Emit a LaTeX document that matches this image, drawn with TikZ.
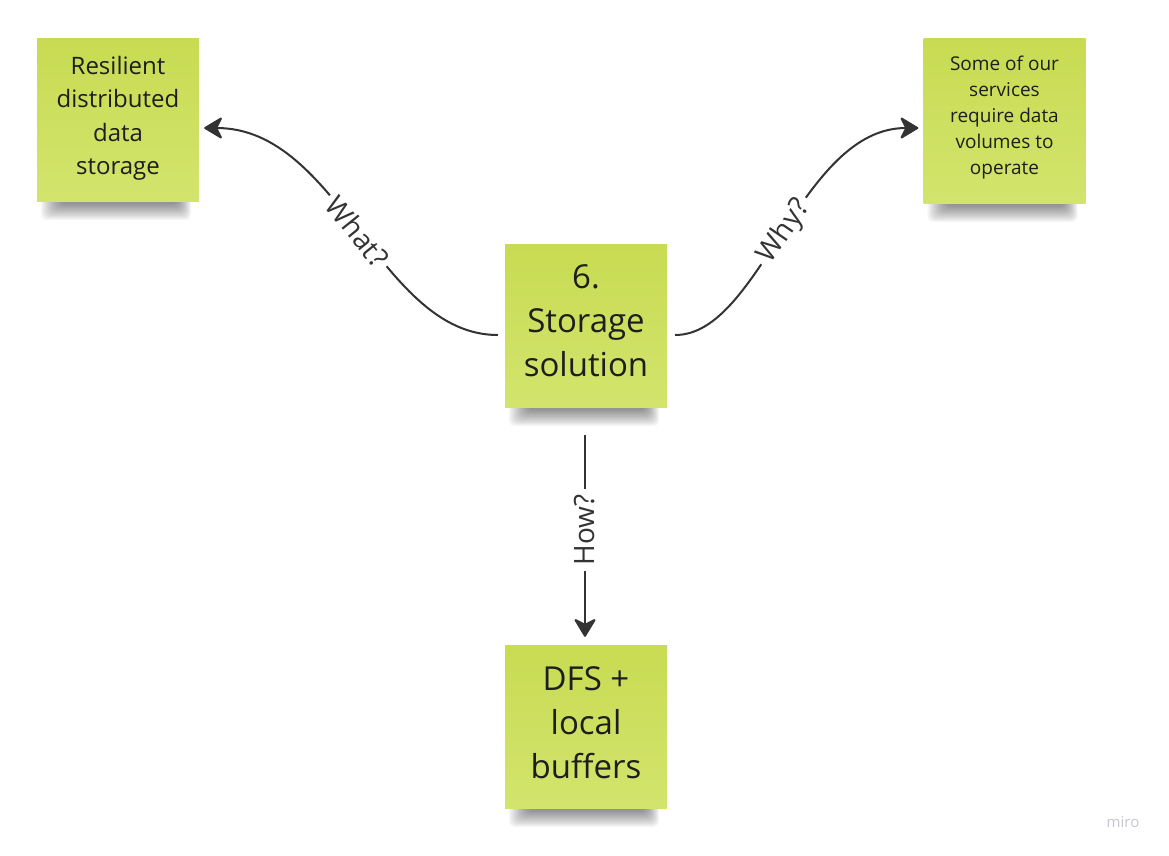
\documentclass[tikz,border=0pt]{standalone}
\usepackage{fontspec}
\setmainfont{Open Sans}
\usetikzlibrary{arrows.meta,calc,backgrounds}
\pgfdeclarelayer{shadowlayer}
\pgfsetlayers{background,shadowlayer,main}
\definecolor{notetop}{HTML}{C8DB52}
\definecolor{notebot}{HTML}{D3E46D}
\definecolor{ink}{HTML}{1E1E1E}
\definecolor{wire}{HTML}{333333}
\definecolor{mirogray}{HTML}{C6C7D0}
\tikzset{
  note/.style={minimum width=162pt, minimum height=163pt, inner sep=0pt,
    top color=notetop, bottom color=notebot, draw=none},
  ntext/.style={text=ink, align=center, inner sep=0pt},
  conn/.style={draw=wire, line width=2pt, -{Stealth[length=20pt,width=24pt,inset=6pt,round]}},
  lbl/.style={fill=white, inner sep=5pt, text=wire, font=\fontsize{28}{34}\selectfont},
  big/.style={font=\fontsize{33}{44}\selectfont},
  mid/.style={font=\fontsize{24}{33.5}\selectfont},
  small/.style={font=\fontsize{19}{26}\selectfont},
}
\newcommand{\stickyshadow}[1]{%
  \foreach \i in {0,...,15}{
    \fill[black, opacity=0.032, rounded corners=6pt]
      ($(#1.south west)+(4+1.3*\i,-6)$) rectangle ($(#1.south east)+(-8-0.9*\i,19-1.1*\i)$);
  }}
\begin{document}
\begin{tikzpicture}[x=1pt,y=-1pt]
\begin{pgfonlayer}{background}
  \fill[white] (0,0) rectangle (1169,855);
\end{pgfonlayer}
\useasboundingbox (0,0) rectangle (1169,855);
% sticky notes
\node[note] (c) at (586,325.5) {};
\node[note] (l) at (118,119.5) {};
\node[note, minimum height=165pt] (r) at (1004.5,120.5) {};
\node[note] (b) at (586,726.5) {};
\begin{pgfonlayer}{shadowlayer}
  \stickyshadow{c}
  \stickyshadow{l}
  \stickyshadow{r}
  \stickyshadow{b}
\end{pgfonlayer}
% texts
\node[ntext, big] (ct) at ($(c.center)+(0,-4.5)$) {6.\\Storage\\solution};
\node[ntext, mid] (lt) at ($(l.center)+(0,-1)$) {Resilient\\distributed\\data\\storage};
\node[ntext, small] (rt) at ($(r.center)+(0,-3)$) {Some of our\\services\\require data\\volumes to\\operate};
\node[ntext, big] (bt) at ($(b.center)+(0,-4)$) {DFS +\\local\\buffers};
% connectors
\coordinate (cl) at ($(c.west)+(-7,9.5)$);
\coordinate (cr) at ($(c.east)+(8,9.5)$);
\coordinate (cb) at ($(c.south)+(-1,28)$);
\coordinate (lin) at ($(l.east)+(5,8.5)$);
\coordinate (rin) at ($(r.west)+(-5,7.5)$);
\coordinate (bin) at ($(b.north)+(-1,-8)$);
\draw[conn] (cl) .. controls +(-118,0) and +(135,0) .. node[lbl, sloped] {What?} (lin);
\draw[conn] (cr) .. controls +(85,0) and +(-118,0) .. node[lbl, sloped] {Why?} (rin);
\draw[conn] (cb) -- node[lbl, rotate=90, pos=0.47] {How?} (bin);
% watermark
\node[text=mirogray, font=\fontsize{15}{18}\selectfont] (m) at (1123,822) {miro};
\end{tikzpicture}
\end{document}
